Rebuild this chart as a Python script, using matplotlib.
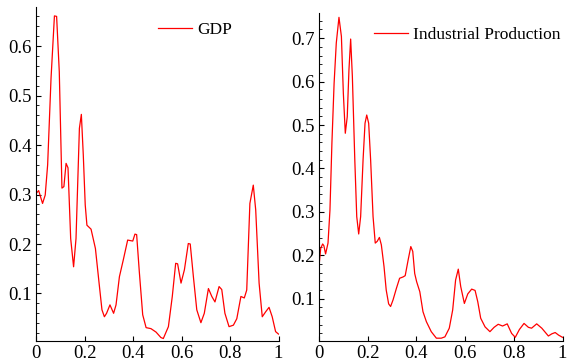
import matplotlib
matplotlib.use("Agg")
import matplotlib.pyplot as plt
from matplotlib.ticker import MultipleLocator, FuncFormatter

# GDP spectrum (frequency, value)
gdp_x = [0.0, 0.011, 0.027, 0.038, 0.048, 0.062, 0.076, 0.085, 0.096, 0.107, 0.115,
         0.124, 0.132, 0.143, 0.155, 0.165, 0.179, 0.187, 0.195, 0.203, 0.21, 0.227,
         0.245, 0.261, 0.272, 0.282, 0.291, 0.305, 0.320, 0.330, 0.344, 0.360, 0.378,
         0.388, 0.399, 0.408, 0.415, 0.426, 0.440, 0.454, 0.474, 0.495, 0.515, 0.525,
         0.546, 0.562, 0.576, 0.584, 0.598, 0.612, 0.628, 0.636, 0.649, 0.663, 0.680,
         0.694, 0.711, 0.725, 0.738, 0.755, 0.766, 0.779, 0.796, 0.814, 0.828, 0.845,
         0.859, 0.869, 0.882, 0.896, 0.906, 0.920, 0.933, 0.947, 0.961, 0.974, 0.988, 1.0]
gdp_y = [0.302, 0.308, 0.282, 0.299, 0.36, 0.535, 0.661, 0.66, 0.548, 0.313, 0.316,
         0.363, 0.354, 0.211, 0.154, 0.211, 0.434, 0.462, 0.380, 0.279, 0.238, 0.230,
         0.191, 0.117, 0.067, 0.053, 0.06, 0.077, 0.060, 0.077, 0.134, 0.168, 0.208,
         0.207, 0.206, 0.220, 0.219, 0.144, 0.057, 0.031, 0.029, 0.022, 0.011, 0.009,
         0.033, 0.094, 0.161, 0.160, 0.121, 0.148, 0.201, 0.200, 0.134, 0.067, 0.041,
         0.060, 0.110, 0.094, 0.083, 0.114, 0.108, 0.060, 0.033, 0.036, 0.049, 0.094,
         0.091, 0.107, 0.282, 0.319, 0.269, 0.121, 0.053, 0.063, 0.072, 0.053, 0.023, 0.018]

# Industrial production spectrum
ip_x = [0.0, 0.007, 0.015, 0.02, 0.027, 0.037, 0.045, 0.053, 0.062, 0.071, 0.082,
        0.092, 0.100, 0.108, 0.116, 0.123, 0.130, 0.137, 0.147, 0.155, 0.163, 0.171,
        0.181, 0.189, 0.196, 0.204, 0.212, 0.222, 0.231, 0.239, 0.248, 0.256, 0.267,
        0.276, 0.286, 0.294, 0.304, 0.318, 0.331, 0.345, 0.354, 0.366, 0.377, 0.385,
        0.393, 0.401, 0.414, 0.427, 0.441, 0.461, 0.482, 0.502, 0.517, 0.535, 0.549,
        0.561, 0.572, 0.582, 0.597, 0.611, 0.627, 0.641, 0.652, 0.664, 0.682, 0.702,
        0.719, 0.736, 0.754, 0.773, 0.791, 0.806, 0.823, 0.842, 0.860, 0.873, 0.894,
        0.915, 0.942, 0.956, 0.970, 0.984, 1.0]
ip_y = [0.175, 0.216, 0.226, 0.222, 0.203, 0.228, 0.304, 0.458, 0.596, 0.689, 0.748,
        0.704, 0.573, 0.481, 0.519, 0.627, 0.698, 0.612, 0.420, 0.289, 0.249, 0.289,
        0.420, 0.504, 0.523, 0.504, 0.420, 0.289, 0.228, 0.232, 0.241, 0.224, 0.174,
        0.120, 0.088, 0.082, 0.097, 0.124, 0.147, 0.150, 0.153, 0.189, 0.220, 0.209,
        0.158, 0.139, 0.116, 0.070, 0.047, 0.024, 0.009, 0.009, 0.012, 0.032, 0.074,
        0.143, 0.168, 0.128, 0.089, 0.111, 0.122, 0.119, 0.093, 0.055, 0.035, 0.024,
        0.034, 0.041, 0.037, 0.042, 0.020, 0.011, 0.029, 0.043, 0.034, 0.032, 0.042,
        0.032, 0.014, 0.019, 0.022, 0.016, 0.011]

x_ticks = [0, 0.2, 0.4, 0.6, 0.8, 1.0]

plt.rcParams['font.family'] = ['Liberation Serif', 'DejaVu Serif']

fig = plt.figure(figsize=(5.68, 3.62), dpi=100)
ax1 = fig.add_axes([36/568, 21/362, 242.5/568, 334/362])
ax2 = fig.add_axes([319/568, 21/362, 243.5/568, 328/362])

fmt = FuncFormatter(lambda v, p: f"{v:g}")

def style(ax, ymin, ymax):
    for s in ['top', 'right']:
        ax.spines[s].set_visible(False)
    for s in ['left', 'bottom']:
        ax.spines[s].set_linewidth(0.8)
    ax.set_xlim(0, 1)
    ax.set_ylim(ymin, ymax)
    ax.set_xticks(x_ticks)
    ax.xaxis.set_major_formatter(fmt)
    ax.yaxis.set_major_locator(MultipleLocator(0.1))
    ax.yaxis.set_minor_locator(MultipleLocator(0.02))
    ax.yaxis.set_major_formatter(fmt)
    ax.tick_params(axis='both', which='major', direction='in', length=3.5, width=0.8,
                   labelsize=13.5, pad=3)
    ax.tick_params(axis='y', which='minor', direction='in', length=1.8, width=0.6)
    ax.tick_params(axis='x', which='minor', bottom=False)

ax1.plot(gdp_x, gdp_y, color='#ff0000', lw=0.9, label='GDP')
style(ax1, 0.004, 0.679)
ax1.legend(frameon=False, loc='center left', bbox_to_anchor=(0.503, 0.931),
           borderaxespad=0, borderpad=0, handlelength=1.95, handletextpad=0.3,
           fontsize=12.5)

ax2.plot(ip_x, ip_y, color='#ff0000', lw=0.9, label='Industrial Production')
style(ax2, 0.0025, 0.758)
ax2.legend(frameon=False, loc='center left', bbox_to_anchor=(0.226, 0.933),
           borderaxespad=0, borderpad=0, handlelength=1.95, handletextpad=0.3,
           fontsize=12.5)

fig.savefig('out.png', dpi=100)
